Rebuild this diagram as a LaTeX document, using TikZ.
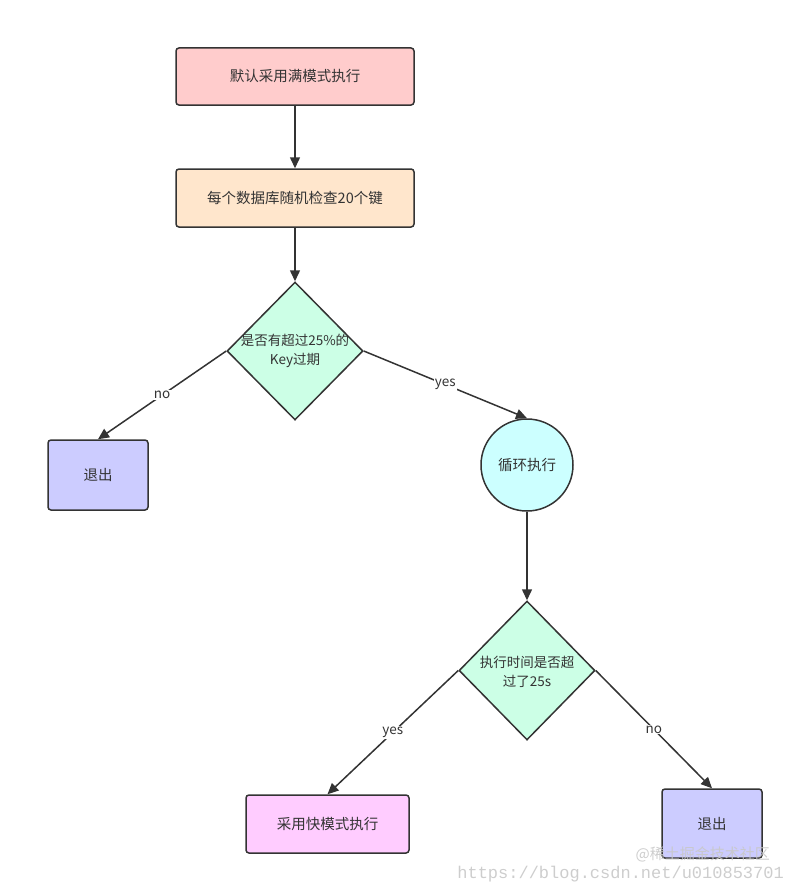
\documentclass[tikz,border=0pt]{standalone}
\usepackage{fontspec}
\setmainfont{Noto Sans CJK SC}
\newfontfamily\monofont{Liberation Mono}
\usetikzlibrary{shapes.geometric,arrows.meta}
\definecolor{linec}{HTML}{333333}
\definecolor{pinkf}{HTML}{FFCCCC}
\definecolor{orangef}{HTML}{FFE6CC}
\definecolor{greenf}{HTML}{CCFFE6}
\definecolor{bluef}{HTML}{CCCCFF}
\definecolor{cyanf}{HTML}{CCFFFF}
\definecolor{magf}{HTML}{FFCCFF}
\definecolor{wmark}{HTML}{C8C8C8}
\tikzset{
  boxnode/.style={draw=linec, line width=1.5pt, rounded corners=3pt, inner sep=0pt,
    text=linec, font=\fontsize{14.5}{18}\selectfont},
  dnode/.style={draw=linec, line width=1.5pt, diamond, inner sep=0pt, fill=greenf},
  dtext/.style={text=linec, align=center, font=\fontsize{13.5}{19}\selectfont},
  cnode/.style={draw=linec, line width=1.5pt, circle, inner sep=0pt, fill=cyanf,
    text=linec, font=\fontsize{14.5}{18}\selectfont},
  conn/.style={draw=linec, line width=1.5pt, -{Triangle[length=11pt,width=10pt]}},
  elabel/.style={fill=white, text=linec, inner sep=1pt, font=\fontsize{13.5}{15}\selectfont},
  wmnode/.style={text=wmark, opacity=0.9, inner sep=0pt, anchor=east},
}
\begin{document}
\begin{tikzpicture}[x=1pt,y=-1pt]
\useasboundingbox (0,0) rectangle (794,891);
\node[boxnode, fill=pinkf, minimum width=238pt, minimum height=57pt] (b1) at (295,76.5) {默认采用满模式执行};
\node[boxnode, fill=orangef, minimum width=238pt, minimum height=58pt] (b2) at (295,198) {每个数据库随机检查20个键};
\node[dnode, minimum width=136pt, minimum height=138pt] (d1) at (295,351) {};
\node[dtext] (t1) at (295,351) {是否有超过25\%的\\Key过期};
\node[boxnode, fill=bluef, minimum width=100pt, minimum height=70pt] (e1) at (98,475) {退出};
\node[cnode, minimum size=92pt] (c1) at (527,465) {循环执行};
\node[dnode, minimum width=136pt, minimum height=139pt] (d2) at (527,670.5) {};
\node[dtext] (t2) at (527,672) {执行时间是否超\\过了25s};
\node[boxnode, fill=magf, minimum width=163pt, minimum height=58pt] (b3) at (327.5,824) {采用快模式执行};
\node[boxnode, fill=bluef, minimum width=100pt, minimum height=69pt] (e2) at (712,823.5) {退出};

\draw[conn] (b1.south) -- (b2.north);
\draw[conn] (b2.south) -- (d1.north);
\draw[conn] (d1.west) -- node[elabel]{no} (e1.north);
\draw[conn] (d1.east) -- node[elabel]{yes} (c1.north);
\draw[conn] (c1.south) -- (d2.north);
\draw[conn] (d2.west) -- node[elabel]{yes} (b3.north);
\draw[conn] (d2.east) -- node[elabel]{no} (e2.north);

\node[wmnode, font=\fontsize{15}{17}\selectfont] (w1) at (770,854) {@稀土掘金技术社区};
\node[wmnode, font=\monofont\fontsize{17}{19}\selectfont] (w2) at (784,874) {https://blog.csdn.net/u010853701};
\end{tikzpicture}
\end{document}
